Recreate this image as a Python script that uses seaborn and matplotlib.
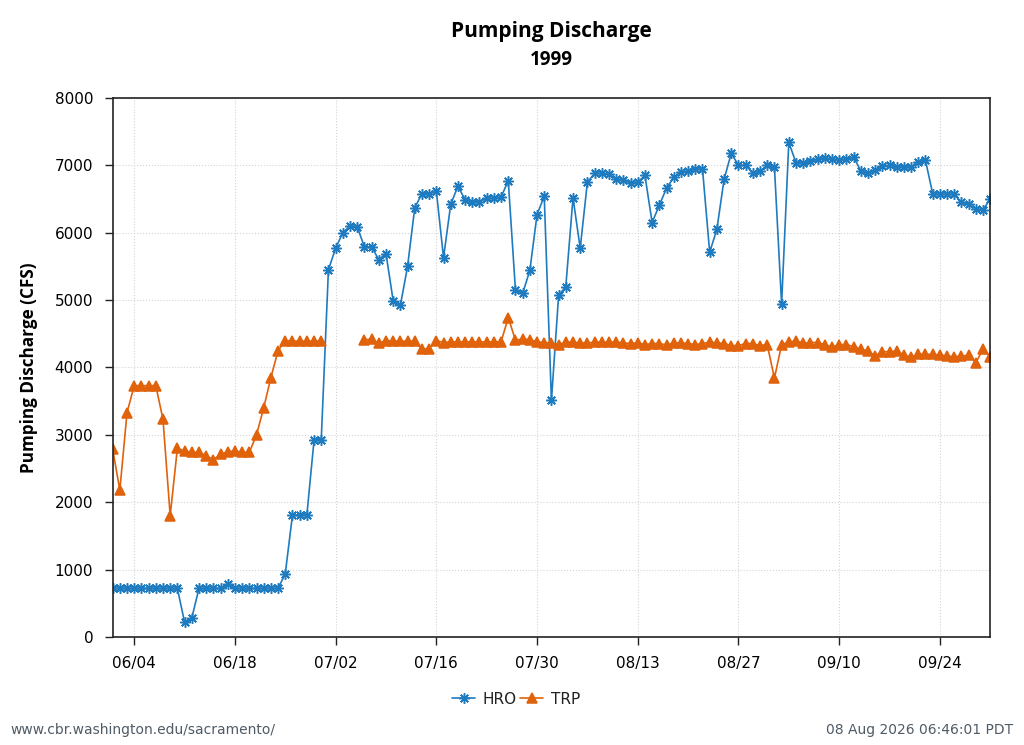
import numpy as np
import pandas as pd
import seaborn as sns
import matplotlib.pyplot as plt
import matplotlib.dates as mdates
from matplotlib.lines import Line2D
from matplotlib import font_manager

dates = pd.date_range("1999-06-01", "1999-10-01", freq="D")

hro = [720, 720, 720, 720, 720, 720, 720, 720, 720, 720,
       220, 280, 720, 720, 720, 720, 780, 720, 720, 720,
       720, 720, 720, 720, 940, 1810, 1810, 1810, 2920, 2930,
       5450, 5770, 6000, 6100, 6090, 5790, 5790, 5600, 5690, 4990,
       4920, 5500, 6370, 6580, 6580, 6620, 5630, 6420, 6690, 6490,
       6460, 6460, 6510, 6510, 6530, 6770, 5150, 5100, 5440, 6270,
       6540, 3510, 5070, 5200, 6520, 5770, 6750, 6880, 6880, 6870,
       6800, 6780, 6740, 6750, 6850, 6150, 6410, 6660, 6820, 6900,
       6910, 6940, 6950, 5710, 6050, 6790, 7180, 7000, 7000, 6890,
       6910, 7000, 6980, 4940, 7340, 7040, 7030, 7060, 7090, 7110,
       7090, 7085, 7090, 7125, 6920, 6880, 6925, 6985, 7000, 6975,
       6975, 6975, 7050, 7075, 6580, 6570, 6570, 6570, 6450, 6430,
       6350, 6340, 6500]

trp = [2790, 2180, 3330, 3730, 3730, 3730, 3730, 3230, 1800, 2800,
       2760, 2740, 2740, 2690, 2630, 2710, 2750, 2760, 2740, 2740,
       3000, 3400, 3850, 4250, 4400, 4390, 4390, 4390, 4390, 4390,
       np.nan, np.nan, np.nan, np.nan, np.nan, 4410, 4420, 4360, 4400, 4390,
       4390, 4390, 4390, 4270, 4280, 4400, 4370, 4380, 4380, 4380,
       4380, 4380, 4380, 4380, 4380, 4740, 4405, 4420, 4415, 4380,
       4370, 4365, 4340, 4375, 4375, 4365, 4365, 4375, 4375, 4375,
       4375, 4365, 4355, 4365, 4340, 4355, 4355, 4335, 4365, 4365,
       4355, 4340, 4355, 4375, 4365, 4355, 4325, 4325, 4355, 4355,
       4325, 4340, 3840, 4340, 4375, 4395, 4360, 4370, 4370, 4340,
       4300, 4340, 4340, 4310, 4270, 4245, 4170, 4235, 4235, 4245,
       4180, 4155, 4195, 4195, 4195, 4185, 4170, 4160, 4170, 4180,
       4070, 4270, 4155]

tick_dates = pd.date_range("1999-06-04", "1999-09-30", freq="14D")

df = pd.DataFrame({"date": dates, "HRO": hro, "TRP": trp})
long = df.melt(id_vars="date", var_name="site", value_name="cfs")
# break the line where data is missing
long["seg"] = long.groupby("site")["cfs"].transform(lambda s: s.isna().cumsum())
long = long.dropna()


def has_bold(name):
    for f in font_manager.fontManager.ttflist:
        w = f.weight
        if isinstance(w, str):
            w = font_manager.weight_dict.get(w, 400)
        if f.name == name and w >= 600 and f.style == "normal":
            return True
    return False


bold_family = "DejaVu Sans"
for name in ["Open Sans", "Noto Sans", "Roboto", "Lato"]:
    if has_bold(name):
        bold_family = name
        break

sns.set_theme(style="ticks")
plt.rcParams["font.family"] = ["DejaVu Sans"]
plt.rcParams["text.color"] = "black"

fig, ax = plt.subplots(figsize=(10.24, 7.45), dpi=100)
fig.subplots_adjust(left=0.110, right=0.967, top=0.8685, bottom=0.145)

colors = {"HRO": "#1f7bbf", "TRP": "#e0620b"}
markers = {"HRO": (8, 2, 0), "TRP": "^"}
sizes = {"HRO": 7.5, "TRP": 7}

handles = []
for site in ["HRO", "TRP"]:
    sub = long[long["site"] == site]
    sns.lineplot(data=sub, x="date", y="cfs", units="seg", estimator=None,
                 color=colors[site], marker=markers[site], markersize=sizes[site],
                 markeredgecolor=colors[site], markeredgewidth=1.1,
                 linewidth=1.2, legend=False, ax=ax)
    handles.append(Line2D([], [], color=colors[site], marker=markers[site],
                          markersize=sizes[site], markeredgecolor=colors[site],
                          markeredgewidth=1.1, linewidth=1.2, label=site))

fig.legend(handles=handles, loc="center", bbox_to_anchor=(0.504, 1 - 699 / 745),
           ncol=2, frameon=False, fontsize=11, handlelength=1.5,
           columnspacing=0.2, handletextpad=0.5, labelcolor="#222222")

ax.set_xlim(dates[0], dates[-1])
ax.set_ylim(0, 8000)
ax.set_xticks(tick_dates)
ax.xaxis.set_major_formatter(mdates.DateFormatter("%m/%d"))
ax.set_yticks(range(0, 8001, 1000))
ax.grid(True, linestyle=":", color="#d4d4d4", linewidth=0.8)
ax.tick_params(labelsize=11, length=6, width=1, pad=8, colors="#222222", labelcolor="black")
for s in ax.spines.values():
    s.set_visible(True)
    s.set_color("#222222")
    s.set_linewidth(1.2)

ax.set_xlabel("")
ax.set_ylabel("Pumping Discharge (CFS)", fontsize=12.3, fontweight="bold",
              family=[bold_family, "DejaVu Sans"], color="black", labelpad=12)

cx = (0.110 + 0.967) / 2
fig.text(cx, 1 - 32 / 745, "Pumping Discharge", ha="center", va="center",
         fontsize=15, fontweight="bold", family=[bold_family, "DejaVu Sans"], color="black")
fig.text(cx, 1 - 60 / 745, "1999", ha="center", va="center",
         fontsize=13.5, fontweight="bold", family=[bold_family, "DejaVu Sans"], color="black")

fig.text(10 / 1024, 1 - 730 / 745, "www.cbr.washington.edu/sacramento/",
         ha="left", va="center", fontsize=10, color="#4f5b66")
fig.text(1013 / 1024, 1 - 730 / 745, "08 Aug 2026 06:46:01 PDT",
         ha="right", va="center", fontsize=10, color="#4f5b66")

fig.savefig("out.png", dpi=100)
